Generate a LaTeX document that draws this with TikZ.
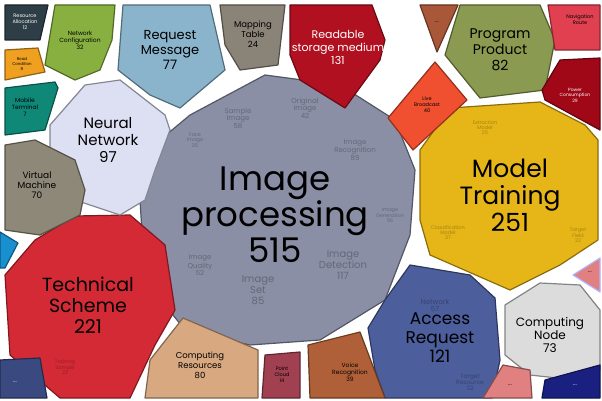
\documentclass[tikz,border=0pt]{standalone}
\usepackage{fontspec}
\setmainfont{Poppins}
\begin{document}
\begin{tikzpicture}[x=1pt,y=-1pt,
 cell/.style={draw=#1!60!black,line width=1.2pt,fill=#1,line join=round},
 lab/.style={align=center,text=black,inner sep=0pt},
 sub/.style={align=center,text=black,opacity=0.28,inner sep=0pt,font=\fontsize{7}{7}\selectfont}]
\useasboundingbox (0,0) rectangle (602,401);
\definecolor{cImg}{HTML}{8A8FA6}\definecolor{cMod}{HTML}{E6B618}\definecolor{cTech}{HTML}{D42A35}
\definecolor{cAcc}{HTML}{4C5E9C}\definecolor{cCN}{HTML}{DCDCDC}\definecolor{cNN}{HTML}{DCE0F2}
\definecolor{cReq}{HTML}{8AB4CC}\definecolor{cMap}{HTML}{8A8478}\definecolor{cRead}{HTML}{B01020}
\definecolor{cTri}{HTML}{A85838}\definecolor{cProg}{HTML}{8A9A50}\definecolor{cNav}{HTML}{E04050}
\definecolor{cPow}{HTML}{A00818}\definecolor{cLive}{HTML}{F05030}\definecolor{cRes}{HTML}{2E3E46}
\definecolor{cRoad}{HTML}{F0A020}\definecolor{cNet}{HTML}{88B040}\definecolor{cMob}{HTML}{108878}
\definecolor{cVM}{HTML}{8E8878}\definecolor{cCy}{HTML}{1890D0}\definecolor{cDB}{HTML}{3A4A80}
\definecolor{cCR}{HTML}{D8A880}\definecolor{cPC}{HTML}{A04050}\definecolor{cVR}{HTML}{B06038}
\definecolor{cPk}{HTML}{E08080}\definecolor{cNavy}{HTML}{1A2080}
% cells
\path[cell=cImg] (190,115)--(265,75)--(340,85)--(395,120)--(415,170)--(410,235)--(385,300)--(320,340)--(250,345)--(185,330)--(145,280)--(140,200)--(160,140)--cycle;
\path[cell=cMod] (420,150)--(450,108)--(540,102)--(585,125)--(598,140)--(598,240)--(560,265)--(510,290)--(430,255)--(420,220)--cycle;
\path[cell=cTech] (5,275)--(35,240)--(75,216)--(130,215)--(165,245)--(175,310)--(155,345)--(130,398)--(60,398)--(10,355)--cycle;
\path[cell=cAcc] (410,265)--(470,275)--(495,298)--(500,360)--(492,398)--(385,398)--(375,370)--(368,328)--(385,300)--cycle;
\path[cell=cCN] (505,305)--(540,283)--(580,285)--(600,310)--(600,370)--(575,380)--(530,375)--(505,355)--cycle;
\path[cell=cNN] (50,125)--(85,85)--(120,80)--(165,115)--(170,130)--(155,170)--(145,200)--(120,215)--(75,200)--(50,160)--cycle;
\path[cell=cReq] (123,5)--(210,5)--(225,70)--(180,108)--(150,95)--(118,70)--cycle;
\path[cell=cMap] (220,5)--(285,5)--(278,65)--(240,70)--(225,45)--cycle;
\path[cell=cRead] (290,5)--(372,5)--(385,40)--(380,60)--(345,108)--(300,80)--(290,55)--cycle;
\path[cell=cTri] (420,5)--(458,5)--(437,52)--cycle;
\path[cell=cProg] (460,5)--(540,5)--(555,40)--(545,90)--(480,98)--(445,55)--cycle;
\path[cell=cNav] (548,5)--(600,5)--(600,50)--(555,50)--cycle;
\path[cell=cPow] (560,60)--(600,58)--(600,130)--(545,100)--(542,90)--cycle;
\path[cell=cLive] (435,62)--(467,100)--(413,150)--(388,118)--cycle;
\path[cell=cRes] (5,5)--(48,5)--(40,40)--(5,40)--cycle;
\path[cell=cRoad] (5,50)--(38,48)--(45,72)--(5,80)--cycle;
\path[cell=cNet] (55,5)--(115,5)--(112,40)--(100,70)--(75,80)--(45,65)--(50,35)--cycle;
\path[cell=cMob] (5,88)--(55,82)--(58,88)--(45,130)--(5,135)--cycle;
\path[cell=cVM] (5,145)--(35,140)--(75,160)--(85,190)--(80,215)--(40,235)--(5,230)--cycle;
\path[cell=cCy] (0,232)--(18,243)--(5,268)--(0,268)--cycle;
\path[cell=cDB] (0,360)--(40,358)--(47,398)--(0,398)--cycle;
\path[cell=cCR] (183,318)--(258,350)--(258,398)--(145,398)--(150,360)--cycle;
\path[cell=cPC] (265,355)--(300,352)--(300,398)--(262,398)--cycle;
\path[cell=cVR] (308,345)--(360,332)--(385,398)--(310,398)--cycle;
\path[cell=cPk] (483,398)--(503,365)--(530,370)--(532,398)--cycle;
\path[cell=cNavy] (545,380)--(600,365)--(600,398)--(542,398)--cycle;
\path[cell=cPk,draw=blue!30] (573,275)--(600,258)--(600,292)--cycle;
% sub labels
\node[sub] at (238,118) {Sample\\Image\\58};
\node[sub] at (305,108) {Original\\Image\\42};
\node[sub,font=\fontsize{5}{5}\selectfont] at (195,140) {Face\\Image\\35};
\node[sub] at (355,150) {Image\\Recognition\\89};
\node[sub] at (200,265) {Image\\Quality\\52};
\node[sub,font=\fontsize{10}{11}\selectfont] at (258,290) {Image\\Set\\85};
\node[sub,font=\fontsize{10}{11}\selectfont] at (343,265) {Image\\Detection\\117};
\node[sub,font=\fontsize{5}{5}\selectfont] at (390,215) {Image\\Generation\\56};
\node[sub,font=\fontsize{5}{5}\selectfont] at (485,128) {Extraction\\Model\\25};
\node[sub,font=\fontsize{5}{5}\selectfont] at (448,233) {Classification\\Model\\37};
\node[sub,font=\fontsize{5}{5}\selectfont] at (578,235) {Target\\Field\\22};
\node[sub] at (435,305) {Network\\57};
\node[sub,font=\fontsize{6}{6}\selectfont] at (470,382) {Target\\Resource\\32};
\node[sub,font=\fontsize{5}{5}\selectfont] at (65,367) {Training\\Sample\\22};
% main labels
\node[lab,font=\fontsize{34}{36}\selectfont] at (275,215) {Image\\processing\\515};
\node[lab,font=\fontsize{25}{27}\selectfont] at (510,195) {Model\\Training\\251};
\node[lab,font=\fontsize{19}{21}\selectfont] at (88,305) {Technical\\Scheme\\221};
\node[lab,font=\fontsize{17}{19}\selectfont] at (440,338) {Access\\Request\\121};
\node[lab,font=\fontsize{12}{13}\selectfont] at (550,335) {Computing\\Node\\73};
\node[lab,font=\fontsize{15}{17}\selectfont] at (108,140) {Neural\\Network\\97};
\node[lab,font=\fontsize{13}{15}\selectfont] at (170,50) {Request\\Message\\77};
\node[lab,font=\fontsize{8.5}{10}\selectfont] at (253,34) {Mapping\\Table\\24};
\node[lab,text=white,font=\fontsize{11}{13}\selectfont] at (338,47) {Readable\\storage medium\\131};
\node[lab,font=\fontsize{14}{16}\selectfont] at (500,50) {Program\\Product\\82};
\node[lab,font=\fontsize{5}{6}\selectfont] at (580,20) {Navigation\\Route};
\node[lab,text=white,font=\fontsize{4.5}{5.5}\selectfont] at (575,95) {Power\\Consumption\\29};
\node[lab,font=\fontsize{5}{6}\selectfont] at (427,105) {Live\\Broadcast\\40};
\node[lab,text=white,font=\fontsize{5}{6}\selectfont] at (25,22) {Resource\\Allocation\\12};
\node[lab,font=\fontsize{4}{5}\selectfont] at (22,64) {Road\\Condition\\8};
\node[lab,font=\fontsize{6}{7}\selectfont] at (80,40) {Network\\Configuration\\32};
\node[lab,font=\fontsize{6}{7}\selectfont] at (25,107) {Mobile\\Terminal\\7};
\node[lab,font=\fontsize{9}{10}\selectfont] at (37,185) {Virtual\\Machine\\70};
\node[lab,font=\fontsize{8.5}{10}\selectfont] at (200,365) {Computing\\Resources\\80};
\node[lab,font=\fontsize{5}{6}\selectfont] at (282,375) {Point\\Cloud\\14};
\node[lab,font=\fontsize{6}{7}\selectfont] at (350,372) {Voice\\Recognition\\39};
\node[lab,font=\fontsize{6}{7}\selectfont] at (437,22) {...};
\node[lab,text=white,font=\fontsize{6}{7}\selectfont] at (575,385) {...};
\node[lab,font=\fontsize{6}{7}\selectfont] at (510,385) {...};
\node[lab,text=white,font=\fontsize{6}{7}\selectfont] at (15,382) {...};
\node[lab,font=\fontsize{6}{7}\selectfont] at (590,272) {...};
\end{tikzpicture}
\end{document}
